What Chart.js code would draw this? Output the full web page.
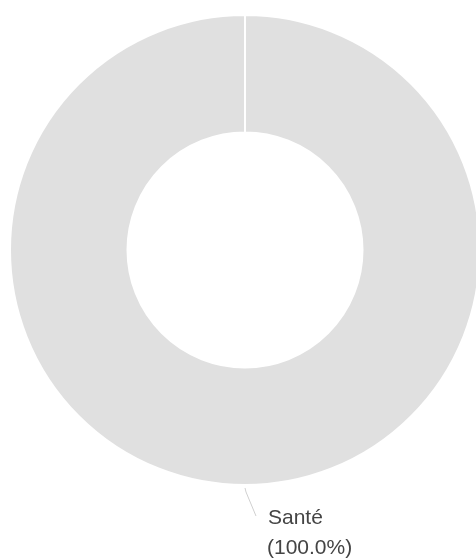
<!DOCTYPE html>
<html>
<head>
<meta charset="utf-8">
<script src="https://cdn.jsdelivr.net/npm/chart.js@4/dist/chart.umd.min.js"></script>
<style>
    html, body { margin: 0; padding: 0; overflow: hidden; background: #fff; }
    canvas { display: block; }
</style>
</head>
<body>
<canvas id="myChart" width="490" height="560"></canvas>
<script>
const categories = ['Santé'];
const values = [100];
const sliceColors = ['#e0e0e0'];

// label + leader line under each slice
const sliceLabels = {
    id: 'sliceLabels',
    afterDatasetsDraw(chart) {
        const ctx = chart.ctx;
        const meta = chart.getDatasetMeta(0);
        const total = values.reduce((a, b) => a + b, 0);
        meta.data.forEach((arc, i) => {
            const p = arc.getProps(['x', 'y', 'startAngle', 'endAngle', 'outerRadius']);
            const mid = (p.startAngle + p.endAngle) / 2;
            const sx = p.x + Math.cos(mid) * (p.outerRadius + 3);
            const sy = p.y + Math.sin(mid) * (p.outerRadius + 3);
            const ex = sx + 11;
            const ey = sy + 28;

            ctx.save();
            ctx.strokeStyle = '#d0d0d0';
            ctx.lineWidth = 1;
            ctx.beginPath();
            ctx.moveTo(sx, sy);
            ctx.lineTo(sx + 1, sy + 4);
            ctx.lineTo(ex, ey);
            ctx.stroke();

            ctx.fillStyle = '#444';
            ctx.font = '21px "Liberation Sans", Arial, sans-serif';
            ctx.textAlign = 'left';
            ctx.textBaseline = 'alphabetic';
            const pct = (values[i] / total * 100).toFixed(1) + '%';
            ctx.fillText(categories[i], ex + 12, ey + 8);
            ctx.fillText('(' + pct + ')', ex + 11, ey + 38);
            ctx.restore();
        });
    }
};

const config = {
    type: 'doughnut',
    data: {
        labels: categories,
        datasets: [{
            data: values,
            backgroundColor: sliceColors,
            borderColor: '#fff',
            borderWidth: 2,
            hoverOffset: 0,
        }],
    },
    options: {
        responsive: false,
        animation: false,
        cutout: '50%',
        layout: {
            padding: { left: 9, right: 9, top: 14, bottom: 74 },
        },
        plugins: {
            legend: false,
            tooltip: false,
        },
    },
    plugins: [sliceLabels],
};

const myChart = new Chart(document.getElementById('myChart'), config);
</script>
</body>
</html>
